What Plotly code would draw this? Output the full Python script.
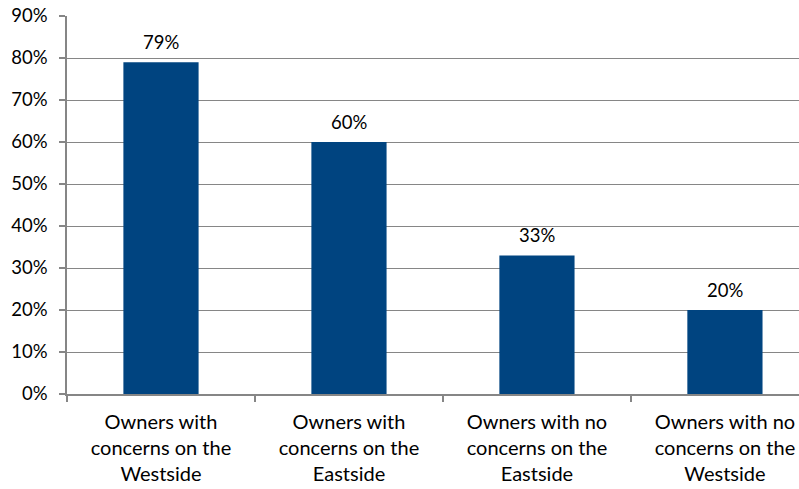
import plotly.graph_objects as go

categories = ["Owners with<br>concerns on the<br>Westside",
              "Owners with<br>concerns on the<br>Eastside",
              "Owners with no<br>concerns on the<br>Eastside",
              "Owners with no<br>concerns on the<br>Westside"]
values = [79, 60, 33, 20]
value_labels = ["79%", "60%", "33%", "20%"]
y_ticks = [0, 10, 20, 30, 40, 50, 60, 70, 80, 90]

FONT = "Lato"
GRID = "#868686"

fig = go.Figure()
fig.add_trace(go.Bar(x=categories, y=values, width=0.4,
                     marker=dict(color="#004480", line=dict(width=0)),
                     hoverinfo="skip"))

for c, v, t in zip(categories, values, value_labels):
    fig.add_annotation(x=c, y=v, text=t, showarrow=False, yanchor="bottom",
                       yshift=7, font=dict(family=FONT, size=18.5, color="#000000"))

fig.update_layout(
    width=799, height=489,
    margin=dict(l=67, r=0, t=16, b=95),
    paper_bgcolor="white", plot_bgcolor="white",
    showlegend=False,
    bargap=0.6,
)
fig.update_xaxes(
    type="category", range=[-0.5, 3.394], automargin=False,
    showline=True, linecolor=GRID, linewidth=1.5,
    ticks="outside", tickson="boundaries", ticklen=6, tickcolor=GRID, tickwidth=1.5,
    tickfont=dict(family=FONT, size=20, color="#000000"),
    ticklabelstandoff=9,
    showgrid=False,
)
fig.update_yaxes(
    range=[0, 90], tickvals=y_ticks, ticktext=[f"{v}%" for v in y_ticks],
    automargin=False,
    showline=True, linecolor=GRID, linewidth=1.5,
    ticks="outside", ticklen=6, tickcolor=GRID, tickwidth=1.5,
    showgrid=True, gridcolor=GRID, gridwidth=1.2,
    tickfont=dict(family=FONT, size=18.5, color="#000000"),
    ticklabelstandoff=8,
    zeroline=False,
)

fig.write_html("out.html", config={"displayModeBar": False},
               post_script="document.body.style.margin='0';document.body.style.overflow='hidden';")
